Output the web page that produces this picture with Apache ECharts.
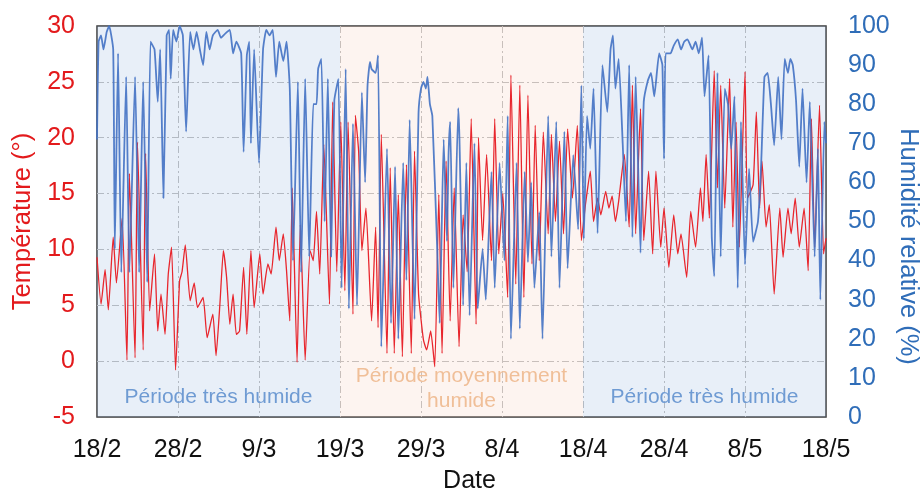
<!DOCTYPE html>
<html>
<head>
<meta charset="utf-8">
<script src="https://cdn.jsdelivr.net/npm/echarts@6/dist/echarts.min.js"></script>
<style>
html,body{margin:0;padding:0;background:#fff;overflow:hidden;width:921px;height:491px;}
#chart{width:921px;height:491px;position:absolute;left:0;top:0;}
</style>
</head>
<body>
<div id="chart"></div>
<script>
// X tick labels (days since 18/2, every 10 days)
const xTickLabels = ['18/2','28/2','9/3','19/3','29/3','8/4','18/4','28/4','8/5','18/5'];

// Temperature (°C) : time in days since 18/2 and values
const tempDays = [0,0.5,1.0,1.4,2.0,2.4,3.1,3.7,4.0,4.7,5.0,5.7,6.0,6.5,7.1,7.5,7.9,8.4,8.8,9.2,9.7,10.2,10.5,10.9,11.5,12.0,12.4,13.1,13.6,14.3,14.7,15.2,15.6,16.0,16.4,16.8,17.2,17.6,18.1,18.5,19.0,19.4,20.1,20.5,21.1,21.5,22.1,22.5,23.0,23.4,23.8,24.1,24.7,25.1,25.7,26.3,26.7,27.1,27.5,28.0,28.7,29.1,29.6,30.1,30.6,31.0,31.6,31.9,32.3,32.7,33.2,33.9,34.4,34.7,35.1,35.8,36.2,36.7,37.2,37.7,38.2,38.8,39.2,39.7,40.3,40.7,41.2,41.7,42.2,42.6,43.1,43.6,44.1,44.7,45.2,45.7,46.2,46.8,47.1,47.6,48.1,48.7,49.1,49.6,50.1,50.7,51.1,51.7,52.2,52.7,53.2,53.7,54.1,54.6,55.1,55.7,56.1,56.6,57.1,57.6,58.1,58.7,59.3,59.8,60.3,60.9,61.3,61.8,62.2,62.8,63.2,63.6,64.0,64.4,65.1,65.7,66.1,66.5,67.1,67.5,68.1,68.6,69.0,69.6,70.0,70.6,71.2,71.7,72.1,72.8,73.3,73.9,74.5,74.8,75.2,75.6,76.2,76.6,77.0,77.5,78.1,78.5,78.9,79.3,80.0,80.3,81.0,81.4,81.8,82.1,82.6,83.0,83.6,84.3,84.7,85.3,85.7,86.2,86.7,87.3,87.8,88.2,88.6,89.2,89.7,90.0];
const tempValues = [9.3,5.1,8.2,4.6,11.1,7.0,12.8,0.1,16.8,0.3,19.6,1.0,18.6,4.5,9.6,2.7,6.0,2.4,7.8,10.2,-0.8,7.2,8.0,10.4,5.4,7.0,4.8,5.7,2.1,4.2,0.5,5.4,9.9,7.5,3.3,6.0,2.4,2.7,8.4,2.4,9.9,4.8,9.6,6.0,8.7,7.8,12.0,9.0,11.4,8.1,3.6,15.5,-0.1,12.2,0.1,9.9,9.0,13.4,7.8,19.4,5.1,23.2,8.0,21.4,6.3,21.4,4.2,22.0,18.8,9.9,13.7,3.6,12.0,3.0,20.3,0.7,17.3,0.7,14.9,0.4,17.6,0.7,18.8,6.0,1.9,1.0,2.7,-0.5,14.9,0.7,17.9,3.6,15.5,1.3,13.1,8.0,21.7,3.3,20.0,10.8,18.5,9.0,21.7,9.6,15.0,5.7,25.6,6.9,24.7,5.7,23.8,8.7,21.1,9.0,20.5,11.4,20.3,12.5,19.7,11.4,20.8,14.6,21.1,10.8,14.0,17.0,12.5,14.6,13.1,15.2,13.7,14.8,12.5,14.3,18.5,12.0,24.7,11.4,22.6,10.8,17.0,9.6,17.0,10.2,13.7,8.4,13.1,9.6,11.4,7.5,13.4,10.2,15.5,12.5,18.5,12.8,26.0,15.5,24.7,13.7,25.3,12.0,21.4,10.2,25.9,14.6,15.8,22.3,13.7,17.9,12.0,14.0,6.0,13.7,9.3,13.7,11.4,14.6,10.2,13.7,8.1,21.7,10.2,22.9,9.6,11.0];

// Relative humidity (%) : time in days since 18/2 and values
const humDays = [0,0.2,0.5,0.8,1.2,1.5,2.0,2.2,2.6,3.0,3.6,4.0,4.7,5.2,5.7,6.2,6.6,7.1,7.5,7.8,8.2,8.6,8.9,9.1,9.4,9.8,10.2,10.6,11.0,11.5,11.9,12.3,12.7,13.1,13.5,13.9,14.3,14.9,15.3,15.8,16.4,16.8,17.2,17.8,18.1,18.5,18.8,19.0,19.4,20.0,20.5,20.9,21.3,21.7,22.1,22.5,23.0,23.4,23.8,24.2,24.8,25.2,25.7,26.2,26.7,27.1,27.3,27.7,28.1,28.5,28.9,29.3,29.8,30.2,30.7,31.1,31.6,32.1,32.7,33.1,33.4,33.7,33.9,34.4,34.7,35.1,35.8,36.3,36.8,37.2,37.8,38.2,38.6,39.2,39.7,40.0,40.3,40.6,40.8,41.1,41.4,42.0,42.3,42.8,43.2,43.4,43.6,44.0,44.6,44.75,45.2,45.6,46.0,46.6,47.0,47.6,48.0,48.7,49.1,49.7,50.3,50.7,51.1,51.8,52.2,52.8,53.2,53.6,54.0,54.6,55.0,55.7,56.1,56.7,57.1,57.7,58.1,58.8,59.4,59.8,60.1,60.5,60.9,61.3,61.8,62.4,63.0,63.4,63.7,64.0,64.4,64.9,65.3,65.7,66.1,66.5,67.1,67.5,68.0,68.4,68.8,69.4,69.8,70.0,70.2,70.8,71.2,71.7,72.1,72.5,72.9,73.5,73.9,74.3,74.7,75.0,75.5,75.9,76.2,76.6,77.0,77.5,77.9,78.3,78.7,79.1,79.5,80.0,80.5,81.0,81.6,82.0,82.4,82.8,83.2,83.6,84.1,84.5,84.9,85.3,85.6,85.9,86.3,86.7,87.1,87.6,88.0,88.6,89.0,89.3,89.8,90.0];
const humValues = [71,96,97.6,94,98.5,100,94,43,93,37,87,37,87,37,85.7,34.5,96,94,80.6,94,56,97.6,99,86.5,99,96,100,97.6,73,98.5,94,98.5,94,90,98.5,94,97.6,99,97,98,99,93,96,93,67.8,92.5,96,70,94,65,94,99,97.6,99,87,96,91,96,84,40,85.7,37,86.5,41,80,80,89,91.6,50,86.5,41,81,86.5,33,89,27.7,75,28.6,83,60,84.8,90.8,89,88,92.5,18,68.6,24,64,20,65,35,76,25,78,84,85.7,84,87,80,77,43,24,71,45,67,75.5,33,79,71,28.6,65,26,70,27.7,43,30,62.7,33,65,40,77,20,65,22.6,62.7,39.6,60,33,52.4,20,77,41,75.5,33,73,38,67,48,84.8,45.6,77,68.6,84,47,90,78,94,97.6,84,91.6,70,50,90,46,87,42,80.6,86,88,82,93,90,66,93,93,95,96.6,94,96,96.6,94,96,93,97,82,92.5,46,36,88,41,84,80,68.6,82,33,75.5,39,63.5,44.8,50,65,87,88,80,69.5,87,71,91.6,88,91.6,90,81,64,84,60,80.6,41,68.6,30,75.5,70];

// Period bands (days since 18/2)
const bandStarts = [0, 30, 60];
const bandEnds = [30, 60, 90];
const bandNames = ['Période très humide', 'Période moyennement\nhumide', 'Période très humide'];

const tempData = tempDays.map((d, i) => [d, tempValues[i]]);
const humData = humDays.map((d, i) => [d, humValues[i]]);

const FONT = "'Liberation Sans', Arial, sans-serif";
const RED = '#e31a1c';
const BLUE_TXT = '#2f6db8';
const FS = 25;
const gridLine = { show: true, showMinLine: false, showMaxLine: false,
  lineStyle: { color: '#bdbdbd', width: 1, type: [7, 3, 2, 3] } };

const bandFill = ['rgba(140,175,220,0.2)', 'rgba(245,200,180,0.2)', 'rgba(140,175,220,0.2)'];
const bandText = ['#6f9bd3', '#f0bf98', '#6f9bd3'];
const bandDist = [7, 3, 7];

const el = document.getElementById('chart');
const chart = echarts.init(el, null, { renderer: 'canvas', width: 921, height: 491 });
chart.setOption({
  animation: false,
  textStyle: { fontFamily: FONT },
  grid: { left: 97, right: 95, top: 26, bottom: 74, containLabel: false, outerBoundsMode: 'none',
    show: true, borderColor: '#3a3a3a', borderWidth: 1.5, backgroundColor: 'transparent' },
  xAxis: {
    type: 'value', min: 0, max: 90, interval: 10,
    axisLine: { show: false }, axisTick: { show: false },
    axisLabel: { fontSize: FS, color: '#111', margin: 21, fontFamily: FONT,
      formatter: v => xTickLabels[Math.round(v / 10)] },
    splitLine: gridLine,
    name: 'Date', nameLocation: 'middle', nameGap: 52,
    nameTextStyle: { fontSize: FS, color: '#111', fontFamily: FONT, padding: [0, 0, 0, 16] }
  },
  yAxis: [{
    type: 'value', position: 'left', min: -5, max: 30, interval: 5,
    axisLine: { show: false }, axisTick: { show: false },
    axisLabel: { fontSize: FS, color: RED, margin: 22, fontFamily: FONT },
    splitLine: gridLine,
    name: 'Température (°)', nameLocation: 'middle', nameGap: 59,
    nameTextStyle: { fontSize: 25.5, color: RED, fontFamily: FONT }
  }, {
    type: 'value', position: 'right', min: 0, max: 100, interval: 10,
    axisLine: { show: false }, axisTick: { show: false },
    axisLabel: { fontSize: FS, color: BLUE_TXT, margin: 22, fontFamily: FONT },
    splitLine: { show: false },
    name: 'Humidité relative (%)', nameLocation: 'middle', nameGap: 69, nameRotate: -90,
    nameMoveOverlap: false,
    nameTextStyle: { fontSize: 25.5, color: BLUE_TXT, fontFamily: FONT, padding: [0, 0, 0, 50] }
  }],
  series: [{
    type: 'line', data: [], z: 1, silent: true,
    markArea: {
      silent: true,
      data: bandStarts.map((s, i) => [
        { xAxis: s, itemStyle: { color: bandFill[i] },
          label: { show: true, position: 'insideBottom', distance: bandDist[i], formatter: bandNames[i],
            color: bandText[i], fontSize: 21, lineHeight: 25, fontFamily: FONT } },
        { xAxis: bandEnds[i] }
      ])
    }
  }, {
    name: 'Température', type: 'line', yAxisIndex: 0, data: tempData, z: 3,
    showSymbol: false, smooth: 0.15,
    lineStyle: { color: '#e8262d', width: 1.3 }
  }, {
    name: 'Humidité', type: 'line', yAxisIndex: 1, data: humData, z: 4,
    showSymbol: false, smooth: 0.15,
    lineStyle: { color: '#4472c4', width: 1.8, opacity: 0.9 }
  }]
});
</script>
</body>
</html>
